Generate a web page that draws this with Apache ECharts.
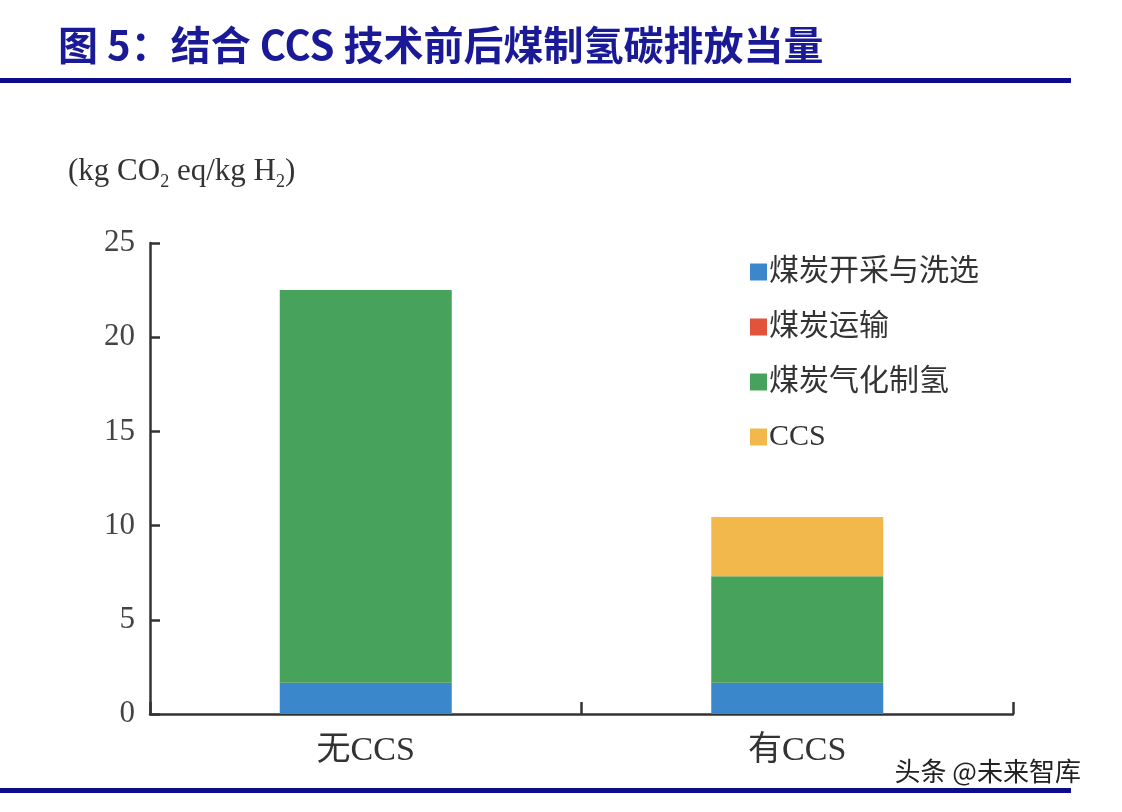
<!DOCTYPE html>
<html>
<head>
<meta charset="utf-8">
<script src="https://cdn.jsdelivr.net/npm/echarts@6/dist/echarts.min.js"></script>
<style>
html,body{margin:0;padding:0;background:#fff;}
#main{width:1122px;height:812px;}
</style>
</head>
<body>
<div id="main"></div>
<script>
const categories = ['无CCS', '有CCS'];
const seriesNames = ['煤炭开采与洗选', '煤炭运输', '煤炭气化制氢', 'CCS'];
const miningValues = [1.65, 1.65];
const transportValues = [0.01, 0.01];
const gasificationValues = [20.85, 5.65];
const ccsValues = [0, 3.14];
const yTicks = [0, 5, 10, 15, 20, 25];
const colors = ['#3a87cc', '#e2533b', '#47a35b', '#f2b84c'];

const serif = '"Liberation Serif", "Noto Sans CJK SC", serif';
const chart = echarts.init(document.getElementById('main'));
const dataSets = [miningValues, transportValues, gasificationValues, ccsValues];

chart.setOption({
  backgroundColor: '#fff',
  animation: false,
  title: {
    text: '图 5：结合 CCS 技术前后煤制氢碳排放当量',
    left: 53,
    top: 20,
    textStyle: {
      color: '#1a1a96',
      fontSize: 40,
      fontWeight: 'bold',
      fontFamily: '"Noto Sans CJK SC", sans-serif'
    }
  },
  graphic: [
    { type: 'rect', shape: { x: 0, y: 78, width: 1071, height: 5 }, style: { fill: '#0d0d8c' } },
    { type: 'rect', shape: { x: 0, y: 788, width: 1071, height: 5 }, style: { fill: '#0d0d8c' } },
    {
      type: 'text', left: 68, top: 156,
      style: {
        text: '{a|(kg CO}{s|2}{a| eq/kg H}{s|2}{a|)}',
        rich: {
          a: { fontSize: 31, fontFamily: serif, fill: '#333', verticalAlign: 'bottom' },
          s: { fontSize: 18, fontFamily: serif, fill: '#333', verticalAlign: 'bottom', padding: [0, 0, -4, 0] }
        }
      }
    },
    {
      type: 'text', left: 893, top: 757, z: 100,
      style: {
        text: '头条 @未来智库', fontSize: 26, fill: '#222',
        fontFamily: '"Noto Sans CJK SC", sans-serif',
        stroke: '#fff', lineWidth: 3
      }
    }
  ],
  legend: {
    orient: 'vertical',
    left: 745,
    top: 252,
    itemGap: 25,
    itemWidth: 17,
    itemHeight: 17,
    icon: 'rect',
    data: seriesNames,
    textStyle: { fontSize: 30, color: '#333', fontFamily: serif, padding: [0, 0, 0, -3] }
  },
  grid: { left: 150, right: 109, top: 243, bottom: 98, containLabel: false },
  xAxis: {
    type: 'category',
    data: categories,
    axisLine: { show: true, lineStyle: { color: '#333', width: 2.5 } },
    axisTick: { show: true, inside: true, length: 12, lineStyle: { color: '#333', width: 2.5 } },
    axisLabel: { fontSize: 34, color: '#333', fontFamily: serif, margin: 20 }
  },
  yAxis: {
    type: 'value',
    min: 0, max: 25, interval: 5,
    axisLine: { show: true, lineStyle: { color: '#333', width: 2.5 } },
    axisTick: { show: true, inside: true, length: 10, lineStyle: { color: '#333', width: 2.5 } },
    splitLine: { show: false },
    axisLabel: { fontSize: 31, color: '#444', fontFamily: serif, margin: 15 }
  },
  series: seriesNames.map((name, i) => ({
    name,
    type: 'bar',
    stack: 'total',
    barWidth: 172,
    data: dataSets[i],
    itemStyle: { color: colors[i] }
  }))
});
</script>
</body>
</html>
